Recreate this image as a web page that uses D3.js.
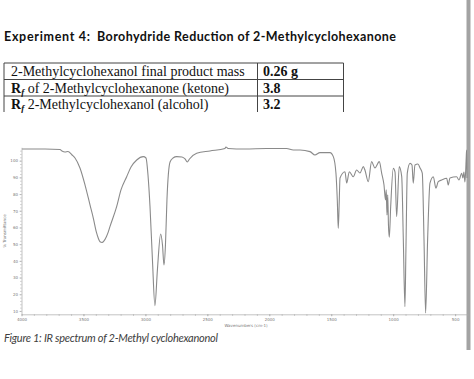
<!DOCTYPE html>
<html>
<head>
<meta charset="utf-8">
<script src="https://cdn.jsdelivr.net/npm/d3@7"></script>
<style>
  body { margin: 0; background: #fff; }
  svg { display: block; }
</style>
</head>
<body>
<div class="chart"></div>
<script>
// Data
var wavenumbers = [3995, 3810, 3689, 3673, 3649, 3625, 3592, 3568, 3528, 3487, 3447, 3420, 3395, 3380, 3366, 3350, 3334, 3315, 3300, 3286,
  3232, 3197, 3151, 3116, 3070, 3017, 2995, 2979, 2963, 2943, 2923, 2903, 2877, 2862, 2850, 2838, 2826,
  2801, 2777, 2747, 2705, 2680, 2662, 2644, 2586, 2479, 2358, 2350, 2333, 2196, 2021, 1860, 1806, 1752,
  1671, 1631, 1591, 1510, 1483, 1462, 1451, 1443, 1435, 1429, 1389, 1375, 1354, 1322, 1295, 1268, 1241,
  1228, 1201, 1174, 1147, 1112, 1093, 1074, 1062, 1056, 1050, 1044, 1038, 1031, 1020, 999, 985, 972, 951,
  931, 918, 905, 897, 886, 864, 848, 838, 824, 800, 783, 765, 751, 738, 722, 703, 676, 655, 636, 609, 568,
  555, 542, 488, 469, 447, 437, 429, 421, 415, 410, 407, 404];
var transmittance = [107.0, 107.0, 106.7, 105.8, 105.2, 105.5, 103.4, 101.6, 95.6, 85.4, 73.5, 65.5, 57.0, 53.5, 51.4, 51.0, 52.0, 54.5, 57.2, 60.5,
  72.5, 82.5, 90.4, 96.2, 100.4, 102.4, 101.6, 91.4, 72.9, 40.5, 13.2, 34.6, 56.1, 49.5, 37.5, 49.5, 76.5,
  99.2, 101.6, 102.4, 102.2, 101.0, 99.2, 101.0, 104.4, 105.8, 107.3, 108.2, 107.3, 107.0, 107.3, 107.3, 106.4, 106.4,
  105.4, 103.4, 104.8, 104.8, 102.4, 92.6, 76.5, 59.5, 76.5, 89.6, 93.4, 86.6, 93.4, 90.4, 94.4, 92.6, 96.4,
  94.4, 87.4, 99.4, 95.6, 99.4, 92.6, 85.4, 76.5, 82.5, 67.5, 79.5, 61.5, 54.1, 72.5, 95.4, 93.2, 66.5, 96.4,
  90.4, 52.5, 12.6, 46.5, 92.5, 98.4, 97.4, 86.5, 97.4, 98.0, 95.6, 92.5, 52.5, 8.8, 52.5, 86.5, 90.4, 83.5, 87.4, 88.4, 89.5,
  85.4, 89.6, 90.4, 88.4, 92.5, 89.6, 93.2, 87.2, 93.2, 102.4, 106.4, 89.6];

var xTicks = [4000, 3500, 3000, 2500, 2000, 1500, 1000, 500];
var yTicks = [10, 20, 30, 40, 50, 60, 70, 80, 90, 100];

var titleLeft = "Experiment 4:";
var titleRight = "Borohydride Reduction of 2-Methylcyclohexanone";
var tableRows = [
  { prefix: "", label: "2-Methylcyclohexanol final product mass", value: "0.26 g" },
  { prefix: "Rf", label: " of 2-Methylcyclohexanone (ketone)", value: "3.8" },
  { prefix: "Rf", label: " 2-Methylcyclohexanol (alcohol)", value: "3.2" }
];
var caption = "Figure 1: IR spectrum of 2-Methyl cyclohexanonol";

var svgWidth = 474;
var svgHeight = 379;

var svg = d3.select(".chart")
  .append("svg")
  .attr("width", svgWidth)
  .attr("height", svgHeight);

// page edge on the right
svg.append("rect")
  .attr("x", 466.5).attr("y", 0)
  .attr("width", 4).attr("height", 350)
  .attr("fill", "#a3a3a3");

// Title
svg.append("text")
  .attr("x", 4).attr("y", 40.5)
  .attr("font-family", "Lato, 'Open Sans', sans-serif")
  .attr("font-weight", "bold")
  .attr("font-size", 12.5)
  .attr("fill", "#111")
  .attr("textLength", 86)
  .text(titleLeft);
svg.append("text")
  .attr("x", 97).attr("y", 40.5)
  .attr("font-family", "Lato, 'Open Sans', sans-serif")
  .attr("font-weight", "bold")
  .attr("font-size", 12.5)
  .attr("fill", "#111")
  .attr("textLength", 299)
  .text(titleRight);

// Table
var table = svg.append("g");
var rowY = [63, 79.5, 96];
var colX = [4, 257.5, 343.5];
rowY.forEach(function(y) {
  table.append("line")
    .attr("x1", colX[0]).attr("x2", colX[2])
    .attr("y1", y).attr("y2", y)
    .attr("stroke", "#444").attr("stroke-width", 1);
});
colX.forEach(function(x) {
  table.append("line")
    .attr("x1", x).attr("x2", x)
    .attr("y1", 63).attr("y2", 112)
    .attr("stroke", "#444").attr("stroke-width", 1);
});
tableRows.forEach(function(r, i) {
  var t = table.append("text")
    .attr("x", 11).attr("y", 76 + i * 16.5)
    .attr("font-family", "'Liberation Serif', 'Times New Roman', serif")
    .attr("font-size", 14)
    .attr("fill", "#111");
  if (r.prefix) {
    t.append("tspan").attr("font-weight", "bold").text("R");
    t.append("tspan").attr("font-weight", "bold").attr("font-style", "italic")
      .attr("font-size", 9).attr("dy", 2).text("f");
    t.append("tspan").attr("dy", -2).text(r.label);
  } else {
    t.append("tspan").text(r.label);
  }
  table.append("text")
    .attr("x", 263).attr("y", 76 + i * 16.5)
    .attr("font-family", "'Liberation Serif', 'Times New Roman', serif")
    .attr("font-size", 14)
    .attr("font-weight", "bold")
    .attr("fill", "#111")
    .text(r.value);
});

// Spectrum
var xScale = d3.scaleLinear().domain([4000, 400]).range([21.5, 467.5]);
var yScale = d3.scaleLinear().domain([8, 108]).range([314.3, 147.3]);

var axisColor = "#aaa";
var labelColor = "#777";

// minor ticks
var xMinor = d3.range(4000, 399, -100);
var yMinor = d3.range(10, 107, 2);

var xAxis = svg.append("g")
  .attr("transform", "translate(0," + 314.3 + ")")
  .call(d3.axisBottom(xScale).tickValues(xTicks).tickFormat(d3.format("d"))
    .tickSize(2).tickPadding(2).tickSizeOuter(0));
svg.append("g")
  .attr("transform", "translate(0," + 314.3 + ")")
  .call(d3.axisBottom(xScale).tickValues(xMinor).tickSize(1.5).tickFormat("").tickSizeOuter(0))
  .select(".domain").remove();

var yAxis = svg.append("g")
  .attr("transform", "translate(21.5,0)")
  .call(d3.axisLeft(yScale).tickValues(yTicks).tickFormat(d3.format("d"))
    .tickSize(2).tickPadding(1.5).tickSizeOuter(0));
svg.append("g")
  .attr("transform", "translate(21.5,0)")
  .call(d3.axisLeft(yScale).tickValues(yMinor).tickSize(1.2).tickFormat("").tickSizeOuter(0))
  .select(".domain").remove();

svg.selectAll(".domain, .tick line")
  .attr("stroke", axisColor)
  .attr("stroke-width", 0.7);
svg.selectAll(".tick text")
  .attr("font-size", 4)
  .attr("font-family", "'DejaVu Sans', sans-serif")
  .attr("fill", labelColor);

// axis titles
svg.append("text")
  .attr("x", 246).attr("y", 327)
  .attr("text-anchor", "middle")
  .attr("font-size", 4)
  .attr("font-family", "'DejaVu Sans', sans-serif")
  .attr("fill", labelColor)
  .text("Wavenumbers (cm-1)");
svg.append("text")
  .attr("transform", "translate(5.5,231) rotate(-90)")
  .attr("text-anchor", "middle")
  .attr("font-size", 4)
  .attr("font-family", "'DejaVu Sans', sans-serif")
  .attr("fill", labelColor)
  .text("% Transmittance");

var spectrum = wavenumbers.map(function(w, i) { return { wn: w, t: transmittance[i] }; });
var line = d3.line()
  .x(d => xScale(d.wn))
  .y(d => yScale(d.t))
  .curve(d3.curveMonotoneX);

svg.append("path")
  .datum(spectrum)
  .attr("d", line)
  .attr("fill", "none")
  .attr("stroke", "#8a8a8a")
  .attr("stroke-width", 1.1)
  .attr("stroke-linejoin", "round");

// Caption
svg.append("text")
  .attr("x", 4).attr("y", 342)
  .attr("font-family", "Lato, 'Open Sans', sans-serif")
  .attr("font-style", "italic")
  .attr("font-size", 11)
  .attr("fill", "#404040")
  .attr("textLength", 214)
  .text(caption);
</script>
</body>
</html>
